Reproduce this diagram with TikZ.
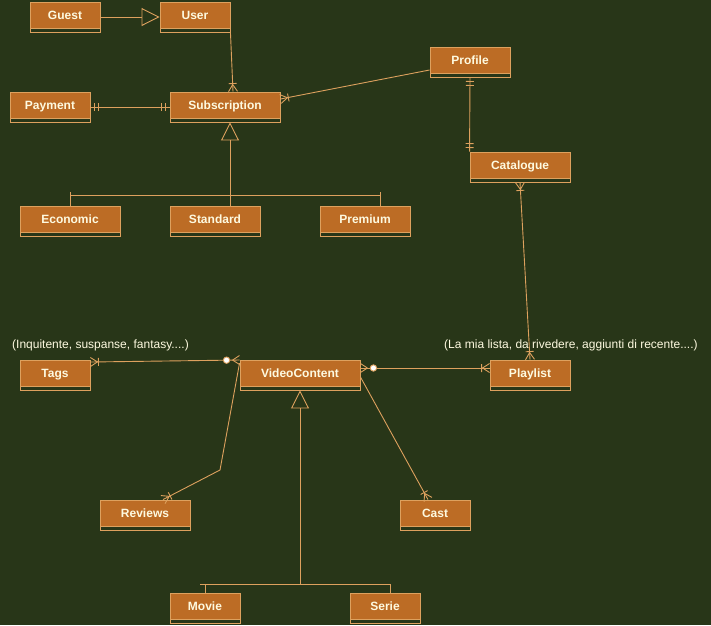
\documentclass[tikz,border=0pt]{standalone}
\usepackage{fontspec}
\setmainfont{Liberation Sans}
\usetikzlibrary{arrows.meta,decorations.markings}
\definecolor{bg}{HTML}{283618}
\definecolor{boxfill}{HTML}{BC6C25}
\definecolor{boxline}{HTML}{DDA15E}
\definecolor{ink}{HTML}{FEFAE0}
% ER end marks, drawn in the frame of the connector end (entity at the origin, line along -x)
\newcommand\erMany{\draw[ln] (-7pt,0pt) -- (0pt,4.5pt) (-7pt,0pt) -- (0pt,-4.5pt) (-8pt,-4pt) -- (-8pt,4pt);}
\newcommand\erOne{\draw[ln] (-4pt,-4pt) -- (-4pt,4pt) (-8pt,-4pt) -- (-8pt,4pt);}
\newcommand\erZeroMany{\draw[ln] (-7pt,0pt) -- (0pt,4.5pt) (-7pt,0pt) -- (0pt,-4.5pt);
  \filldraw[ln,fill=white] (-13pt,0pt) circle (3.2pt);}
\begin{document}
\begin{tikzpicture}[x=1pt,y=-1pt,
  ln/.style={draw=boxline,line width=0.9pt},
  cls/.style={draw=boxline,line width=0.9pt,minimum width=#1,inner xsep=0pt,inner ysep=0pt,
    text height=17.8pt,text depth=12.2pt,text=ink,
    font=\fontsize{12pt}{14pt}\selectfont\bfseries,
    path picture={
      \fill[boxfill] (path picture bounding box.north west) rectangle ([yshift=4pt]path picture bounding box.south east);
      \draw[boxline,line width=0.9pt] ([yshift=4pt]path picture bounding box.south west) -- ([yshift=4pt]path picture bounding box.south east);}},
  note/.style={text=ink,font=\fontsize{12pt}{14pt}\selectfont,inner sep=0pt,anchor=west},
  gen/.style={-{Triangle[open,length=18pt,width=18pt]}},
  mk/.style 2 args={postaction={decorate,decoration={markings,mark=at position #1 with {#2}}}},
  manyend/.style={mk={1}{\erMany}},
  manystart/.style={mk={0}{\begin{scope}[xscale=-1]\erMany\end{scope}}},
  oneend/.style={mk={1}{\erOne}},
  onestart/.style={mk={0}{\begin{scope}[xscale=-1]\erOne\end{scope}}},
  zeroend/.style={mk={1}{\erZeroMany}},
  zerostart/.style={mk={0}{\begin{scope}[xscale=-1]\erZeroMany\end{scope}}},
]
\fill[bg] (0,0) rectangle (711,625);
\useasboundingbox (0,0) rectangle (711,625);

% classes
\node[cls=70pt]  (Guest)        at (65,17)   {Guest};
\node[cls=70pt]  (User)         at (195,17)  {User};
\node[cls=80pt]  (Payment)      at (50,107)  {Payment};
\node[cls=110pt] (Subscription) at (225,107) {Subscription};
\node[cls=80pt]  (Profile)      at (470,62)  {Profile};
\node[cls=100pt] (Catalogue)    at (520,167) {Catalogue};
\node[cls=100pt] (Economic)     at (70,221)  {Economic};
\node[cls=90pt]  (Standard)     at (215,221) {Standard};
\node[cls=90pt]  (Premium)      at (365,221) {Premium};
\node[cls=70pt]  (Tags)         at (55,375)  {Tags};
\node[cls=120pt] (VideoContent) at (300,375) {VideoContent};
\node[cls=80pt]  (Playlist)     at (530,375) {Playlist};
\node[cls=90pt]  (Reviews)      at (145,515) {Reviews};
\node[cls=70pt]  (Cast)         at (435,515) {Cast};
\node[cls=70pt]  (Movie)        at (205,608) {Movie};
\node[cls=70pt]  (Serie)        at (385,608) {Serie};

% notes
\node[note] (tagnote)  at (12,345)  {(Inquitente, suspanse, fantasy....)};
\node[note] (listnote) at (444,345) {(La mia lista, da rivedere, aggiunti di recente....)};

% inheritance
\draw[ln,gen] (Guest.east) -- (User.west);

\coordinate (sj) at ([xshift=15pt,yshift=10pt]Standard.north);
\coordinate (pj) at ([xshift=15pt]Premium.north);
\draw[ln,gen] ([xshift=15pt]Standard.north) -- ([xshift=5pt]Subscription.south);
\draw[ln] (Economic.north |- sj) -- (pj |- sj);
\draw[ln] (Economic.north) -- ++(0,-14);
\draw[ln] (pj) -- ++(0,-14);

\coordinate (vj) at (300,584);
\coordinate (vl) at (200,584);
\coordinate (vr) at (390,584);
\draw[ln,gen] (vj) -- (VideoContent.south);
\draw[ln] (vl) -- (vr);
\draw[ln] (Movie.north) -- (Movie.north |- vj);
\draw[ln] ([xshift=5pt]Serie.north) -- (vr);

% associations
\draw[ln,manyend] (User.south east) -- ([xshift=8pt]Subscription.north);
\draw[ln,onestart,oneend] (Payment.east) -- (Subscription.west);
\draw[ln,manyend] ([yshift=-8pt]Profile.west) -- ([yshift=8pt]Subscription.east);
\draw[ln,onestart,oneend] (Profile.south) -- (Catalogue.north west);
\draw[ln,manystart,manyend] (Catalogue.south) -- (Playlist.north);
\draw[ln,manystart,zeroend] ([yshift=13pt]Tags.east) -- ([yshift=15pt]VideoContent.west);
\draw[ln,zerostart,manyend] ([yshift=7pt]VideoContent.east) -- ([yshift=7pt]Playlist.west);
\coordinate (rb) at (220,470);
\draw[ln,manyend] ([yshift=12pt]VideoContent.west) -- (rb) -- ([xshift=18pt]Reviews.north);
\draw[ln,manyend] ([yshift=-2pt]VideoContent.east) -- ([xshift=-7pt]Cast.north);
\end{tikzpicture}
\end{document}
